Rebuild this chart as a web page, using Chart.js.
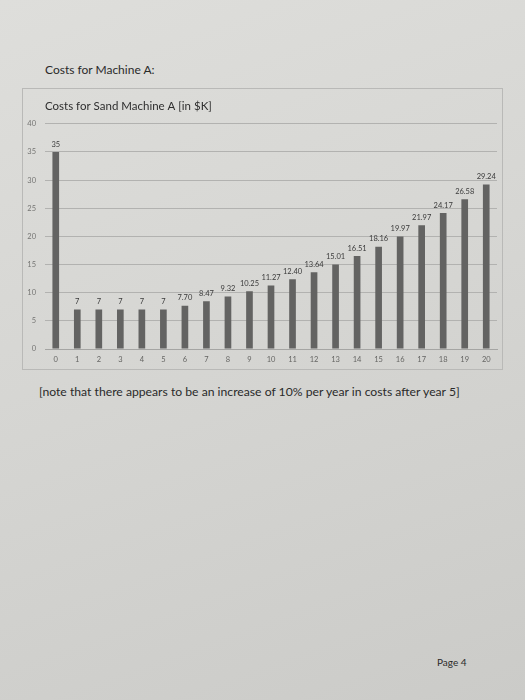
<!DOCTYPE html>
<html lang="en">
<head>
<meta charset="UTF-8">
<title>Costs for Sand Machine A</title>
<style>
    body {
        margin: 0;
        width: 525px;
        height: 700px;
        overflow: hidden;
        position: relative;
        background: linear-gradient(160deg, #dededb 0%, #d6d6d3 45%, #cbcbc8 100%);
        font-family: Lato, "Open Sans", sans-serif;
        color: #2a2a2a;
    }
    .page-text {
        position: absolute;
        white-space: nowrap;
    }
    .chart-frame {
        position: absolute;
        left: 22px;
        top: 88px;
        width: 481px;
        height: 282px;
        border: 1px solid #b9b9b7;
        box-sizing: border-box;
    }
    .chart-frame canvas {
        position: absolute;
        top: 0;
        left: 0;
    }
</style>
</head>
<body>
<div class="page-text" style="left:45px; top:62px; font-size:12px;">Costs for Machine A:</div>

<div class="chart-frame">
    <canvas id="myChart" width="479" height="280"></canvas>
</div>

<div class="page-text" style="left:39px; top:384px; font-size:12.2px;">[note that there appears to be an increase of 10% per year in costs after year 5]</div>
<div class="page-text" style="left:437px; top:656px; font-size:10px;">Page 4</div>

<script src="https://cdn.jsdelivr.net/npm/chart.js@4.4.0/dist/chart.umd.min.js"></script>
<script>
    // chart values
    const years = ['0', '1', '2', '3', '4', '5', '6', '7', '8', '9', '10',
                   '11', '12', '13', '14', '15', '16', '17', '18', '19', '20'];
    const costs = [35, 7, 7, 7, 7, 7, 7.70, 8.47, 9.32, 10.25, 11.27,
                   12.40, 13.64, 15.01, 16.51, 18.16, 19.97, 21.97, 24.17, 26.58, 29.24];
    const yTicks = [0, 5, 10, 15, 20, 25, 30, 35, 40];
    const chartTitle = 'Costs for Sand Machine A [in $K]';

    // values printed above each bar
    const valueLabels = {
        id: 'valueLabels',
        afterDatasetsDraw(chart) {
            const ctx = chart.ctx;
            const meta = chart.getDatasetMeta(0);
            ctx.save();
            ctx.font = '7.5px Lato, "Open Sans", sans-serif';
            ctx.fillStyle = '#3a3a3a';
            ctx.textAlign = 'center';
            ctx.textBaseline = 'bottom';
            meta.data.forEach((bar, i) => {
                const v = costs[i];
                const txt = Number.isInteger(v) ? String(v) : v.toFixed(2);
                ctx.fillText(txt, bar.x, bar.y - 4);
            });
            ctx.restore();
        }
    };

    var ctx = document.getElementById('myChart').getContext('2d');
    var myChart = new Chart(ctx, {
        type: 'bar',
        data: {
            labels: years,
            datasets: [{
                label: 'Costs',
                data: costs,
                backgroundColor: '#636362',
                barPercentage: 0.31,
                categoryPercentage: 1.0
            }]
        },
        options: {
            responsive: false,
            animation: false,
            layout: {
                padding: { left: 0, right: 5, top: 10, bottom: 0 }
            },
            scales: {
                y: {
                    min: 0,
                    max: 40,
                    afterFit: s => { s.width = 22; },
                    afterBuildTicks: s => { s.ticks = yTicks.map(v => ({ value: v })); },
                    border: { display: false },
                    grid: {
                        color: '#b2b2b0',
                        lineWidth: 1,
                        drawTicks: false
                    },
                    ticks: {
                        padding: 9,
                        color: '#757573',
                        font: { family: 'Lato', size: 7.5 }
                    }
                },
                x: {
                    afterFit: s => { s.height = 20; },
                    border: { display: true, color: '#a5a5a3' },
                    grid: { display: false, drawTicks: false },
                    ticks: {
                        padding: 6,
                        color: '#656563',
                        font: { family: 'Lato', size: 7.5 }
                    }
                }
            },
            plugins: {
                legend: { display: false },
                tooltip: { enabled: false },
                title: {
                    display: true,
                    text: chartTitle,
                    align: 'start',
                    fullSize: false,
                    color: '#2e2e2e',
                    padding: { top: 0, bottom: 11 },
                    font: { family: 'Lato', size: 11.5, weight: 'normal' }
                }
            }
        },
        plugins: [valueLabels]
    });
</script>
</body>
</html>
